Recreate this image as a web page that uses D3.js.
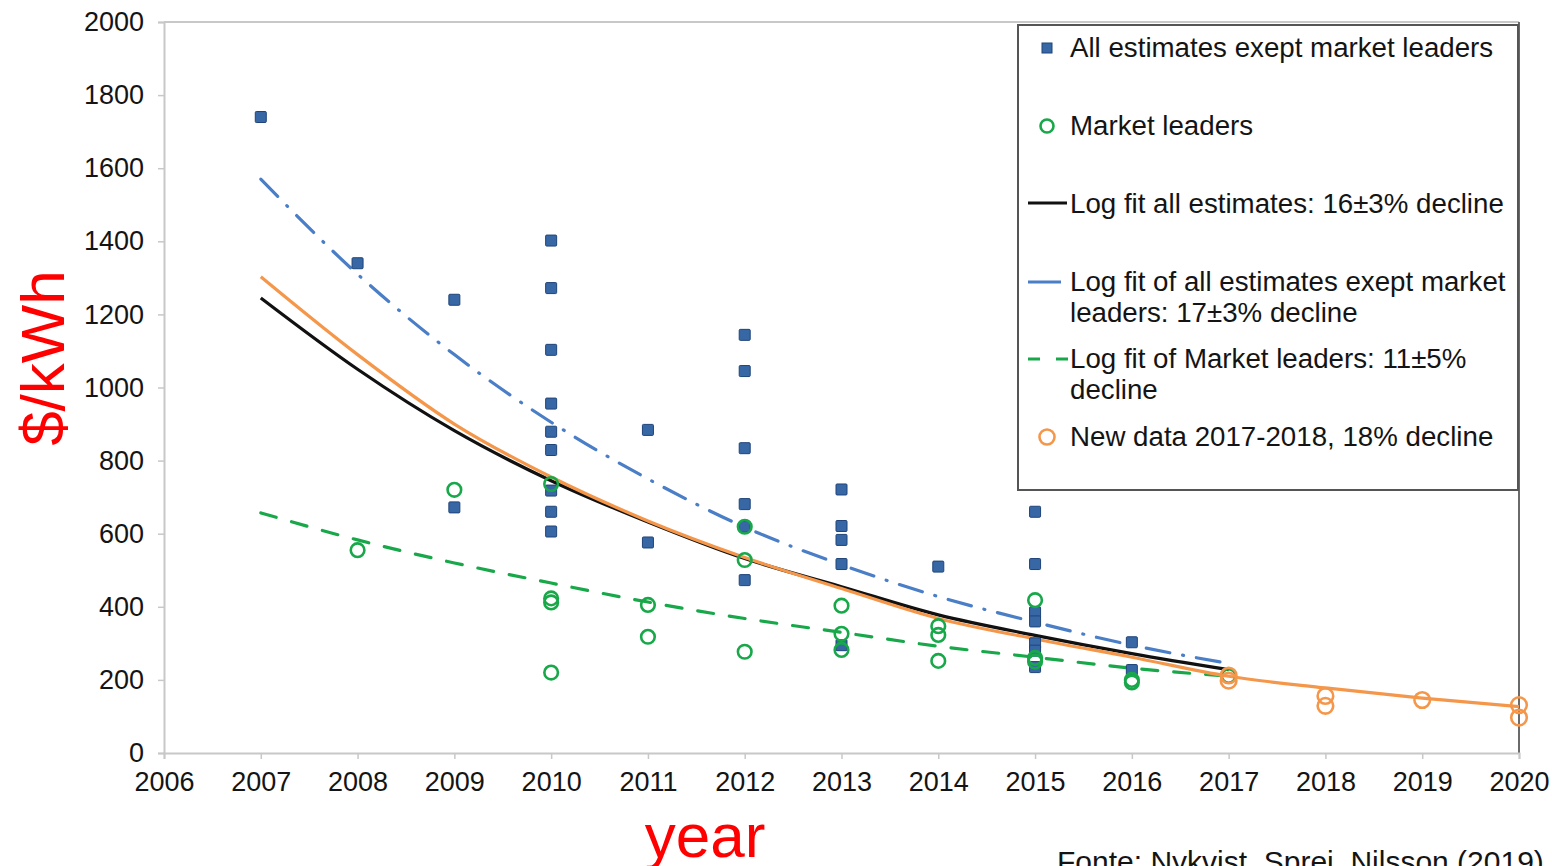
<!DOCTYPE html>
<html>
<head>
<meta charset="utf-8">
<script src="https://cdn.jsdelivr.net/npm/d3@7"></script>
<style>
  html, body { margin: 0; padding: 0; background: #fff; overflow: hidden; }
  svg { display: block; font-family: "Liberation Sans", Arial, sans-serif; }
</style>
</head>
<body>
<svg id="chart" width="1552" height="866"></svg>
<script>
// ---- data ----------------------------------------------------------------
const xTicks = [2006, 2007, 2008, 2009, 2010, 2011, 2012, 2013, 2014, 2015, 2016, 2017, 2018, 2019, 2020];
const yTicks = [0, 200, 400, 600, 800, 1000, 1200, 1400, 1600, 1800, 2000];

// Individual cost estimates ($/kWh), excluding market leaders
const estimateYears  = [2007, 2008, 2009, 2009, 2010, 2010, 2010, 2010, 2010, 2010, 2010, 2010, 2010,
                        2011, 2011, 2012, 2012, 2012, 2012, 2012, 2012, 2013, 2013, 2013, 2013, 2013,
                        2014, 2015, 2015, 2015, 2015, 2015, 2015, 2015, 2016, 2016];
const estimateValues = [1740, 1340, 1240, 672, 1402, 1272, 1103, 956, 879, 829, 718, 660, 606,
                        884, 576, 1144, 1045, 834, 681, 619, 473, 721, 621, 583, 517, 295,
                        510, 660, 517, 385, 360, 300, 280, 235, 303, 227];

// Market leaders
const leaderYears  = [2008, 2009, 2010, 2010, 2010, 2010, 2011, 2011, 2012, 2012, 2012,
                      2013, 2013, 2013, 2014, 2014, 2014, 2015, 2015, 2015, 2016, 2016, 2017];
const leaderValues = [555, 720, 736, 423, 412, 220, 405, 318, 619, 528, 277,
                      403, 326, 282, 347, 323, 252, 418, 260, 250, 200, 193, 211];

// New data 2017-2018
const newYears  = [2017, 2017, 2018, 2018, 2019, 2020, 2020];
const newValues = [212, 198, 156, 129, 145, 131, 97];

// Fitted curves
const fitYears      = [2007, 2008, 2009, 2010, 2011, 2012, 2013, 2014, 2015, 2016, 2017];
const fitAll        = [1245, 1050, 882, 745, 632, 532, 455, 378, 322, 272, 228];
const fitNonLeaders = [1570, 1310, 1090, 905, 750, 618, 515, 428, 358, 295, 245];
const fitLeaders    = [657, 583, 520, 465, 413, 368, 330, 292, 262, 232, 210];
const newFitYears   = [2007, 2008, 2009, 2010, 2011, 2012, 2013, 2014, 2015, 2016, 2017, 2018, 2019, 2020];
const newFit        = [1303, 1090, 900, 755, 635, 535, 450, 368, 312, 262, 210, 178, 150, 127];

// Legend entries
const legendLabels = [
  ["All estimates exept market leaders"],
  ["Market leaders"],
  ["Log fit all estimates: 16\u00b13% decline"],
  ["Log fit of all estimates exept market", "leaders: 17\u00b13% decline"],
  ["Log fit of Market leaders: 11\u00b15%", "decline"],
  ["New data 2017-2018, 18% decline"]
];

// ---- styles --------------------------------------------------------------
const C = {
  square: "#3867a6", squareEdge: "#1f4478",
  green: "#18a84a", orange: "#f5974a", blue: "#4a7ec6", black: "#111",
  axis: "#c8c8c8", frame: "#6a6a6a", red: "#ff0000", text: "#141414"
};

const svg = d3.select("#chart");
const x = d3.scaleLinear().domain([2006, 2020]).range([164, 1519]);
const y = d3.scaleLinear().domain([0, 2000]).range([753, 22]);

// plot frame: top and right edges
svg.append("line").attr("x1", x(2006)).attr("x2", x(2020)).attr("y1", y(2000)).attr("y2", y(2000))
  .attr("stroke", C.axis).attr("stroke-width", 2);
svg.append("line").attr("x1", x(2020)).attr("x2", x(2020)).attr("y1", y(2000)).attr("y2", y(0))
  .attr("stroke", C.frame).attr("stroke-width", 2);

// axes
const yAxis = svg.append("g").attr("transform", `translate(${x(2006)},0)`)
  .call(d3.axisLeft(y).tickValues(yTicks).tickFormat(d3.format("d")).tickSize(6).tickPadding(14));
const xAxis = svg.append("g").attr("transform", `translate(0,${y(0)})`)
  .call(d3.axisBottom(x).tickValues(xTicks).tickFormat(d3.format("d")).tickSize(6).tickPadding(13));
[yAxis, xAxis].forEach(g => {
  g.select(".domain").attr("stroke", C.axis).attr("stroke-width", 2);
  g.selectAll(".tick line").attr("stroke", C.axis).attr("stroke-width", 1.5);
  g.selectAll(".tick text").attr("fill", C.text).style("font-size", "27px")
    .style("font-family", "'Liberation Sans', Arial, sans-serif");
});

// fitted curves
const line = d3.line().curve(d3.curveMonotoneX);
function drawFit(years, vals, color, dash) {
  svg.append("path")
    .attr("d", line(years.map((yr, i) => [x(yr), y(vals[i])])))
    .attr("fill", "none").attr("stroke", color).attr("stroke-width", 3.2)
    .attr("stroke-dasharray", dash || null).attr("stroke-linecap", dash ? "round" : "butt");
}
drawFit(fitYears, fitLeaders, C.green, "16,16");
drawFit(fitYears, fitNonLeaders, C.blue, "24,13,1,13");
drawFit(fitYears, fitAll, C.black);
drawFit(newFitYears, newFit, C.orange);

// markers
const sq = 11;
svg.append("g").selectAll("rect").data(estimateYears).join("rect")
  .attr("x", (d) => x(d) - sq / 2)
  .attr("y", (d, i) => y(estimateValues[i]) - sq / 2)
  .attr("width", sq).attr("height", sq).attr("rx", 1)
  .attr("fill", C.square).attr("stroke", C.squareEdge).attr("stroke-width", 1);

svg.append("g").selectAll("circle").data(leaderYears).join("circle")
  .attr("cx", (d) => x(d)).attr("cy", (d, i) => y(leaderValues[i])).attr("r", 6.8)
  .attr("fill", "none").attr("stroke", C.green).attr("stroke-width", 2.6);

svg.append("g").selectAll("circle").data(newYears).join("circle")
  .attr("cx", (d) => x(d)).attr("cy", (d, i) => y(newValues[i])).attr("r", 7.8)
  .attr("fill", "none").attr("stroke", C.orange).attr("stroke-width", 2.6);

// legend
const lg = svg.append("g");
lg.append("rect").attr("x", 1018).attr("y", 25).attr("width", 500).attr("height", 465)
  .attr("fill", "#fff").attr("stroke", "#555").attr("stroke-width", 2);
const rowY = [47, 125, 203, 281, 358, 436];
const lineGap = 31;
legendLabels.forEach((lines, i) => {
  const t = lg.append("text").attr("x", 1070).attr("y", rowY[i])
    .attr("fill", C.text).style("font-size", "27.7px");
  lines.forEach((s, j) => t.append("tspan").attr("x", 1070).attr("dy", j === 0 ? "0.36em" : lineGap).text(s));
});
lg.append("rect").attr("x", 1042).attr("y", rowY[0] - 4).attr("width", sq - 1).attr("height", sq - 1)
  .attr("fill", C.square).attr("stroke", C.squareEdge);
lg.append("circle").attr("cx", 1047).attr("cy", rowY[1] + 1).attr("r", 6.5)
  .attr("fill", "none").attr("stroke", C.green).attr("stroke-width", 2.6);
lg.append("line").attr("x1", 1028).attr("x2", 1067).attr("y1", rowY[2]).attr("y2", rowY[2])
  .attr("stroke", C.black).attr("stroke-width", 3.2);
lg.append("line").attr("x1", 1028).attr("x2", 1061).attr("y1", rowY[3] + 1).attr("y2", rowY[3] + 1)
  .attr("stroke", C.blue).attr("stroke-width", 3.2);
lg.append("line").attr("x1", 1028).attr("x2", 1068).attr("y1", rowY[4] + 1).attr("y2", rowY[4] + 1)
  .attr("stroke", C.green).attr("stroke-width", 3.2).attr("stroke-dasharray", "12,16");
lg.append("circle").attr("cx", 1047).attr("cy", rowY[5] + 1).attr("r", 7.5)
  .attr("fill", "none").attr("stroke", C.orange).attr("stroke-width", 2.6);

// axis titles
svg.append("text").attr("transform", "translate(64,358) rotate(-90)")
  .attr("text-anchor", "middle").attr("fill", C.red).style("font-size", "62px").text("$/kWh");
svg.append("text").attr("x", 705).attr("y", 857)
  .attr("text-anchor", "middle").attr("fill", C.red).style("font-size", "62px").text("year");

// source note
svg.append("text").attr("x", 1057).attr("y", 872).attr("fill", C.text)
  .style("font-size", "30px").text("Fonte: Nykvist, Sprei, Nilsson (2019)");
</script>
</body>
</html>
